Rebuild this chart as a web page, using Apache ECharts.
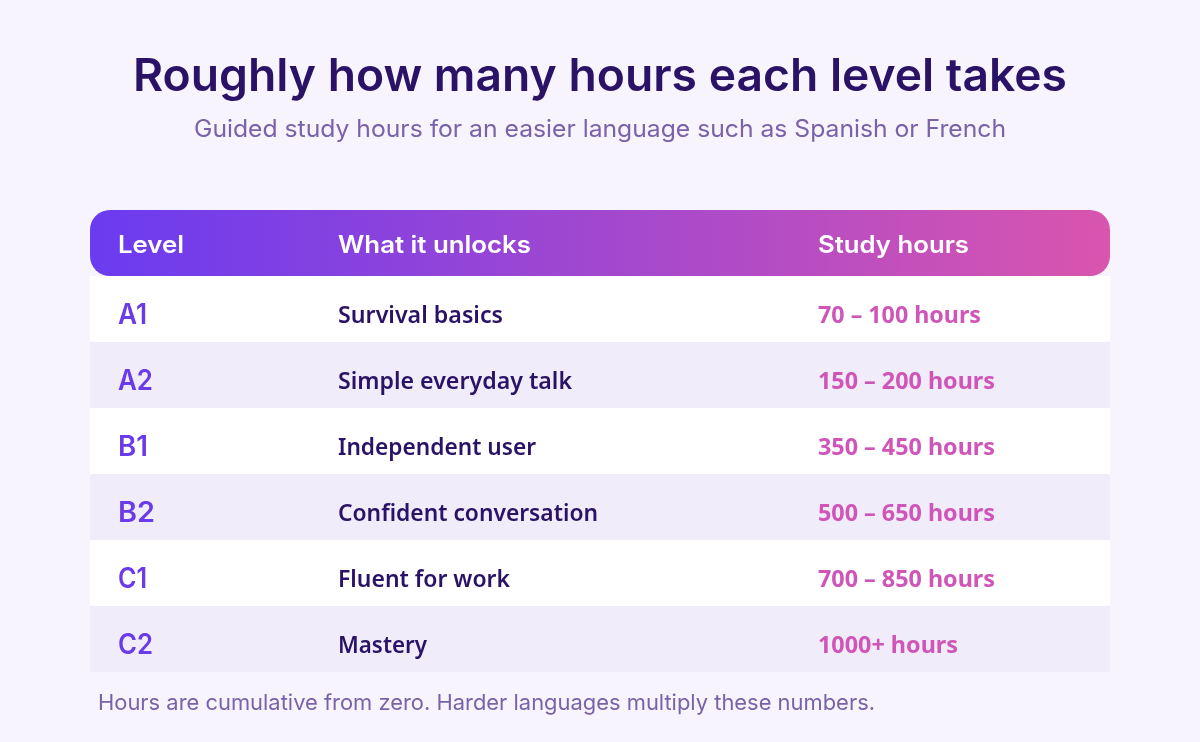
<!DOCTYPE html>
<html>
<head>
    <meta charset="utf-8">
    <title>Hours per level</title>
    <script src="https://cdn.jsdelivr.net/npm/echarts@6/dist/echarts.min.js"></script>
    <style>
        html, body { margin: 0; padding: 0; background: #f7f4fd; }
        #main { width: 1200px; height: 742px; }
    </style>
</head>
<body>
<div id="main"></div>
<script type="text/javascript">
    const titleText = 'Roughly how many hours each level takes';
    const subtitleText = 'Guided study hours for an easier language such as Spanish or French';
    const footnoteText = 'Hours are cumulative from zero. Harder languages multiply these numbers.';
    const headers = ['Level', 'What it unlocks', 'Study hours'];
    const levels = ['A1', 'A2', 'B1', 'B2', 'C1', 'C2'];
    const unlocks = ['Survival basics', 'Simple everyday talk', 'Independent user', 'Confident conversation', 'Fluent for work', 'Mastery'];
    const hours = ['70 – 100 hours', '150 – 200 hours', '350 – 450 hours', '500 – 650 hours', '700 – 850 hours', '1000+ hours'];

    // widths measured on the reference, the installed fonts run narrower or wider
    const headerWidths = [66, 193, 151];
    const levelWidths = [29, 35, 30, 37, 29, 35];
    const unlockWidths = [165, 234, 198, 260, 172, 89];
    const hourWidths = [163, 177, 177, 177, 177, 140];

    const headFont = 'Inter, Lato, sans-serif';
    const bodyFont = '"Noto Sans", "Open Sans", sans-serif';
    const left = 90, width = 1020, headTop = 210, headH = 66, rowH = 66;

    const chart = echarts.init(document.getElementById('main'));
    const ctx = document.createElement('canvas').getContext('2d');
    const elements = [];

    // draw a text squeezed or stretched to the wanted width
    function text(x, y, str, font, fill, w, align) {
        ctx.font = font;
        elements.push({
            type: 'text', x: x, y: y,
            scaleX: w / ctx.measureText(str).width,
            style: {text: str, font: font, fill: fill, textAlign: align || 'left', textVerticalAlign: 'middle'}
        });
    }

    text(600, 77, titleText, '600 45px ' + headFont, '#2a1266', 934, 'center');
    text(600, 130, subtitleText, '400 24px ' + headFont, '#7a62a8', 812, 'center');

    levels.forEach(function (lv, i) {
        const top = headTop + headH + i * rowH;
        elements.push({type: 'rect', shape: {x: left, y: top, width: width, height: rowH},
            style: {fill: i % 2 ? '#f0ecfa' : '#ffffff'}});
        text(118, top + 40, lv, '600 28px ' + headFont, '#6a3be8', levelWidths[i]);
        text(338, top + 40, unlocks[i], '600 24px ' + bodyFont, '#2a1266', unlockWidths[i]);
        text(818, top + 40, hours[i], '700 24px ' + bodyFont, '#cf55b8', hourWidths[i]);
    });

    elements.push({type: 'rect', shape: {x: left, y: headTop, width: width, height: headH, r: 20},
        style: {fill: new echarts.graphic.LinearGradient(0, 0, 1, 0, [
            {offset: 0, color: '#6a3bf0'}, {offset: 1, color: '#d955ae'}])}});
    [118, 338, 818].forEach(function (x, i) {
        text(x, headTop + 36, headers[i], '600 24px ' + headFont, '#ffffff', headerWidths[i]);
    });

    text(98, 703, footnoteText, '400 22px ' + headFont, '#7a62a8', 777);

    chart.setOption({backgroundColor: '#f7f4fd', animation: false, graphic: {elements: elements}});
</script>
</body>
</html>
